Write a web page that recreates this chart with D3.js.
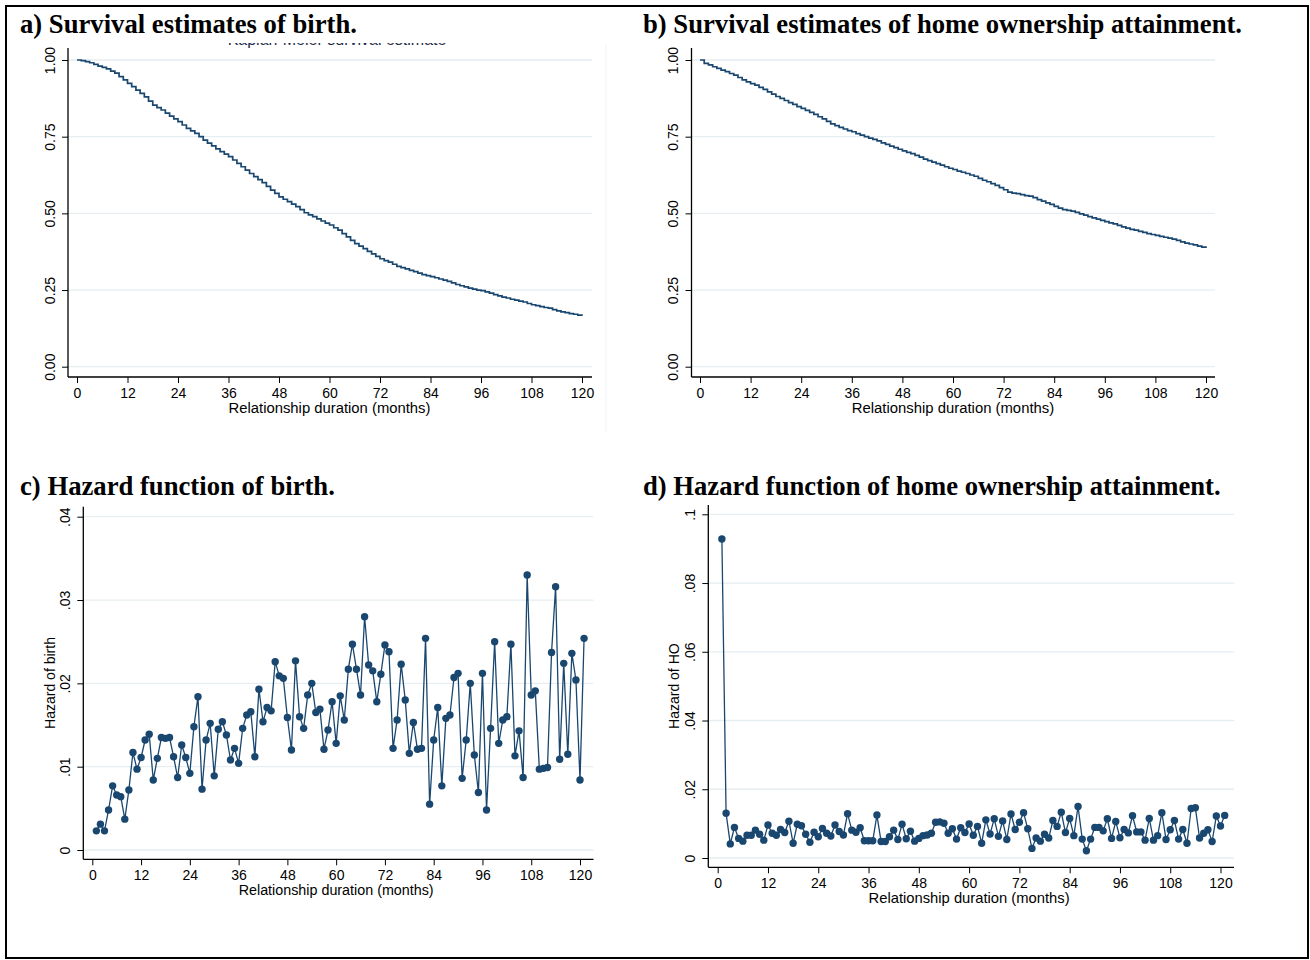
<!DOCTYPE html>
<html><head><meta charset="utf-8">
<script src="https://cdn.jsdelivr.net/npm/d3@7"></script>
<style>body{margin:0;background:#fff}svg{display:block}</style>
</head><body>
<svg id="chart" width="1310" height="960"></svg>
<script>
// ---------------- data ----------------
const survMonths = d3.range(0, 121);
const hazardMonths = d3.range(1, 122);
const xTicks = [0, 12, 24, 36, 48, 60, 72, 84, 96, 108, 120];
const survTicks = [0, 0.25, 0.5, 0.75, 1];
const survTickLabels = ["0.00", "0.25", "0.50", "0.75", "1.00"];
const birthHazTicks = [0, 0.01, 0.02, 0.03, 0.04];
const birthHazTickLabels = ["0", ".01", ".02", ".03", ".04"];
const hoHazTicks = [0, 0.02, 0.04, 0.06, 0.08, 0.1];
const hoHazTickLabels = ["0", ".02", ".04", ".06", ".08", ".1"];
const panelTitles = [
  "a) Survival estimates of birth.",
  "b) Survival estimates of home ownership attainment.",
  "c) Hazard function of birth.",
  "d) Hazard function of home ownership attainment."
];
const xAxisTitle = "Relationship duration (months)";
const yTitleBirth = "Hazard of birth";
const yTitleHO = "Hazard of HO";

const survivalBirth = [
1.000,0.998,0.995,0.991,0.986,0.980,0.976,0.971,0.964,0.957,
0.946,0.935,0.924,0.913,0.902,0.891,0.880,0.866,0.853,0.845,
0.837,0.827,0.817,0.808,0.799,0.788,0.777,0.769,0.761,0.750,
0.739,0.729,0.720,0.710,0.701,0.693,0.685,0.674,0.663,0.652,
0.641,0.630,0.620,0.610,0.600,0.588,0.576,0.565,0.554,0.546,
0.538,0.530,0.522,0.512,0.502,0.495,0.489,0.482,0.475,0.468,
0.462,0.453,0.445,0.434,0.423,0.412,0.401,0.393,0.385,0.376,
0.368,0.360,0.352,0.346,0.341,0.334,0.327,0.323,0.319,0.314,
0.310,0.305,0.300,0.297,0.294,0.290,0.286,0.282,0.278,0.273,
0.268,0.264,0.260,0.256,0.253,0.250,0.248,0.244,0.240,0.235,
0.231,0.227,0.224,0.220,0.217,0.214,0.211,0.206,0.202,0.199,
0.196,0.193,0.191,0.186,0.182,0.179,0.176,0.173,0.171,0.168,
0.166];

const survivalHome = [
1.000,0.989,0.984,0.978,0.973,0.967,0.962,0.956,0.951,0.943,
0.935,0.929,0.923,0.918,0.911,0.904,0.896,0.889,0.881,0.875,
0.868,0.861,0.855,0.848,0.842,0.836,0.829,0.823,0.815,0.808,
0.800,0.792,0.786,0.780,0.775,0.770,0.766,0.760,0.755,0.750,
0.745,0.741,0.736,0.730,0.725,0.719,0.714,0.709,0.704,0.699,
0.695,0.689,0.683,0.677,0.672,0.667,0.662,0.657,0.652,0.647,
0.643,0.638,0.634,0.630,0.625,0.621,0.614,0.608,0.603,0.597,
0.591,0.584,0.577,0.569,0.566,0.564,0.561,0.558,0.556,0.551,
0.545,0.540,0.534,0.529,0.523,0.517,0.512,0.510,0.507,0.503,
0.498,0.494,0.489,0.485,0.481,0.477,0.473,0.469,0.466,0.461,
0.456,0.452,0.448,0.445,0.441,0.438,0.434,0.431,0.428,0.425,
0.422,0.419,0.416,0.412,0.407,0.403,0.400,0.397,0.393,0.390,
0.387];

const hazardBirth = [
0.0023,0.0031,0.0023,0.0048,0.0077,0.0066,0.0064,0.0037,0.0072,0.0117,
0.0097,0.0111,0.0132,0.0139,0.0084,0.0110,0.0135,0.0134,0.0135,0.0112,
0.0087,0.0126,0.0111,0.0092,0.0148,0.0184,0.0073,0.0132,0.0152,0.0089,
0.0145,0.0154,0.0138,0.0108,0.0122,0.0104,0.0146,0.0162,0.0166,0.0112,
0.0193,0.0154,0.0171,0.0167,0.0226,0.0209,0.0206,0.0159,0.0120,0.0227,
0.0160,0.0146,0.0186,0.0200,0.0165,0.0169,0.0121,0.0144,0.0178,0.0128,
0.0185,0.0156,0.0217,0.0247,0.0217,0.0186,0.0280,0.0222,0.0215,0.0178,
0.0211,0.0246,0.0238,0.0122,0.0156,0.0223,0.0180,0.0116,0.0153,0.0121,
0.0122,0.0254,0.0055,0.0132,0.0171,0.0077,0.0158,0.0162,0.0207,0.0212,
0.0086,0.0132,0.0200,0.0114,0.0069,0.0212,0.0048,0.0146,0.0250,0.0128,
0.0156,0.0160,0.0247,0.0113,0.0143,0.0087,0.0330,0.0186,0.0191,0.0097,
0.0098,0.0099,0.0237,0.0316,0.0109,0.0224,0.0115,0.0236,0.0204,0.0084,
0.0254];

const hazardHome = [
0.0928,0.0130,0.0041,0.0089,0.0057,0.0049,0.0066,0.0066,0.0081,0.0069,
0.0052,0.0096,0.0072,0.0066,0.0083,0.0074,0.0107,0.0043,0.0098,0.0094,
0.0069,0.0046,0.0075,0.0062,0.0086,0.0072,0.0064,0.0096,0.0077,0.0067,
0.0129,0.0081,0.0075,0.0088,0.0050,0.0050,0.0050,0.0125,0.0048,0.0048,
0.0062,0.0081,0.0054,0.0098,0.0056,0.0078,0.0049,0.0057,0.0065,0.0067,
0.0072,0.0104,0.0105,0.0101,0.0072,0.0085,0.0055,0.0088,0.0074,0.0099,
0.0066,0.0092,0.0043,0.0111,0.0070,0.0114,0.0063,0.0108,0.0054,0.0128,
0.0083,0.0104,0.0132,0.0085,0.0028,0.0058,0.0049,0.0069,0.0058,0.0109,
0.0092,0.0133,0.0074,0.0115,0.0065,0.0150,0.0055,0.0021,0.0055,0.0089,
0.0089,0.0079,0.0114,0.0057,0.0106,0.0059,0.0083,0.0073,0.0123,0.0076,
0.0076,0.0052,0.0115,0.0052,0.0065,0.0132,0.0054,0.0082,0.0109,0.0055,
0.0083,0.0043,0.0144,0.0146,0.0058,0.0072,0.0082,0.0048,0.0122,0.0093,
0.0124];

// ---------------- drawing ----------------
const svg = d3.select("#chart");
const NAVY = "#1a476f";
const GRID = "#e6eef1";
const SANS = "'Liberation Sans', Arial, Helvetica, sans-serif";
const SERIF = "'Liberation Serif', 'Times New Roman', serif";

svg.append("rect").attr("x", 0).attr("y", 0).attr("width", 1310).attr("height", 960).attr("fill", "#fff");

const panels = [
  { title: panelTitles[0], titleX: 20, titleY: 33, titleW: 337,
    x0: 77, x120: 582, xL: 68, xR: 592, axY: 377, yTop: 48,
    yDom: [0, 1], yRange: [366.7, 60], yTicks: survTicks, yLabels: survTickLabels,
    kind: "surv", data: survivalBirth, yTitle: null, yTitleX: 0 },
  { title: panelTitles[1], titleX: 643, titleY: 33, titleW: 599,
    x0: 700, x120: 1206, xL: 691.5, xR: 1215, axY: 377, yTop: 48,
    yDom: [0, 1], yRange: [366.7, 60], yTicks: survTicks, yLabels: survTickLabels,
    kind: "surv", data: survivalHome, yTitle: null, yTitleX: 0 },
  { title: panelTitles[2], titleX: 20, titleY: 495, titleW: 315,
    x0: 92.3, x120: 580, xL: 83.3, xR: 593.5, axY: 859.3, yTop: 506.7,
    yDom: [0, 0.04], yRange: [850, 516.7], yTicks: birthHazTicks, yLabels: birthHazTickLabels,
    kind: "haz", data: hazardBirth, yTitle: yTitleBirth, yTitleX: 50 },
  { title: panelTitles[3], titleX: 643, titleY: 495, titleW: 578,
    x0: 717.7, x120: 1220.5, xL: 708.3, xR: 1234, axY: 867.3, yTop: 505,
    yDom: [0, 0.1], yRange: [858, 514.3], yTicks: hoHazTicks, yLabels: hoHazTickLabels,
    kind: "haz", data: hazardHome, yTitle: yTitleHO, yTitleX: 674 }
];

function fitTitle(sel, w) {
  sel.attr("font-size", 24);
  const len = sel.node().getComputedTextLength();
  sel.attr("font-size", (24 * w / len).toFixed(2));
}

panels.forEach(p => {
  const g = svg.append("g");
  const x = d3.scaleLinear().domain([0, 120]).range([p.x0, p.x120]);
  const y = d3.scaleLinear().domain(p.yDom).range(p.yRange);

  // title
  const t = g.append("text").attr("x", p.titleX).attr("y", p.titleY)
    .attr("font-family", SERIF).attr("font-weight", "bold").attr("fill", "#000")
    .text(p.title);
  fitTitle(t, p.titleW);

  // grid
  g.append("g").selectAll("line").data(p.yTicks).join("line")
    .attr("x1", p.xL).attr("x2", p.xR)
    .attr("y1", d => y(d)).attr("y2", d => y(d))
    .attr("stroke", GRID).attr("stroke-width", 1.3);

  // x axis
  const xa = g.append("g").attr("transform", `translate(0,${p.axY})`)
    .call(d3.axisBottom(x).tickValues(xTicks).tickSize(6).tickSizeOuter(0));
  xa.select(".domain").remove();
  xa.selectAll(".tick line").attr("stroke", "#000").attr("stroke-width", 1);
  xa.selectAll(".tick text").attr("y", 20.5).attr("dy", null)
    .attr("font-family", SANS).attr("font-size", 14).attr("fill", "#000");
  g.append("line").attr("x1", p.xL).attr("x2", p.xR).attr("y1", p.axY).attr("y2", p.axY)
    .attr("stroke", "#000").attr("stroke-width", 1.3);
  const xt = g.append("text").attr("x", (p.x0 + p.x120) / 2).attr("y", p.axY + 35.5)
    .attr("text-anchor", "middle").attr("font-family", SANS).attr("font-size", 14)
    .attr("fill", "#000").text(xAxisTitle);
  // reference title is ~202px wide for a 505px axis span
  const want = 202 * (p.x120 - p.x0) / 505;
  xt.attr("font-size", (14 * want / xt.node().getComputedTextLength()).toFixed(2));

  // y axis
  const ya = g.append("g").attr("transform", `translate(${p.xL},0)`)
    .call(d3.axisLeft(y).tickValues(p.yTicks).tickFormat((d, i) => p.yLabels[i]).tickSize(6).tickSizeOuter(0));
  ya.select(".domain").remove();
  ya.selectAll(".tick line").attr("stroke", "#000").attr("stroke-width", 1);
  ya.selectAll(".tick text").attr("x", null).attr("dy", null)
    .attr("transform", "translate(-18,0) rotate(-90)")
    .attr("text-anchor", "middle").attr("dy", "0.35em")
    .attr("font-family", SANS).attr("font-size", 14).attr("fill", "#000");
  g.append("line").attr("x1", p.xL).attr("x2", p.xL).attr("y1", p.yTop).attr("y2", p.axY)
    .attr("stroke", "#000").attr("stroke-width", 1.3);
  if (p.yTitle) {
    g.append("text")
      .attr("transform", `translate(${p.yTitleX},${(p.yTop + p.axY) / 2}) rotate(-90)`)
      .attr("text-anchor", "middle").attr("dy", "0.35em")
      .attr("font-family", SANS).attr("font-size", 14).attr("fill", "#000")
      .text(p.yTitle);
  }

  if (p.kind === "surv") {
    const line = d3.line().x((d, i) => x(survMonths[i])).y(d => y(d)).curve(d3.curveStepAfter);
    g.append("path").datum(p.data).attr("d", line)
      .attr("fill", "none").attr("stroke", NAVY).attr("stroke-width", 1.7);
  } else {
    const line = d3.line().x((d, i) => x(hazardMonths[i])).y(d => y(d));
    g.append("path").datum(p.data).attr("d", line)
      .attr("fill", "none").attr("stroke", NAVY).attr("stroke-width", 1.3);
    g.append("g").selectAll("circle").data(p.data).join("circle")
      .attr("cx", (d, i) => x(hazardMonths[i])).attr("cy", d => y(d)).attr("r", 3.7)
      .attr("fill", NAVY);
  }
});

// cut-off original sub-title remnant in panel a (only its lowest pixels survive)
const defs = svg.append("defs");
defs.append("clipPath").attr("id", "cutA").append("rect")
  .attr("x", 150).attr("y", 43).attr("width", 400).attr("height", 5);
svg.append("text").attr("clip-path", "url(#cutA)")
  .attr("x", 337).attr("y", 44.6).attr("text-anchor", "middle")
  .attr("font-family", SANS).attr("font-size", 16).attr("fill", "#1e2b48")
  .text("Kaplan-Meier survival estimate");

// faint edge of panel a image
svg.append("line").attr("x1", 606).attr("x2", 606).attr("y1", 45).attr("y2", 432)
  .attr("stroke", "#eef1f3").attr("stroke-width", 1);

// outer frame
svg.append("rect").attr("x", 6).attr("y", 6).attr("width", 1302).attr("height", 952)
  .attr("fill", "none").attr("stroke", "#000").attr("stroke-width", 2);
</script>
</body></html>
